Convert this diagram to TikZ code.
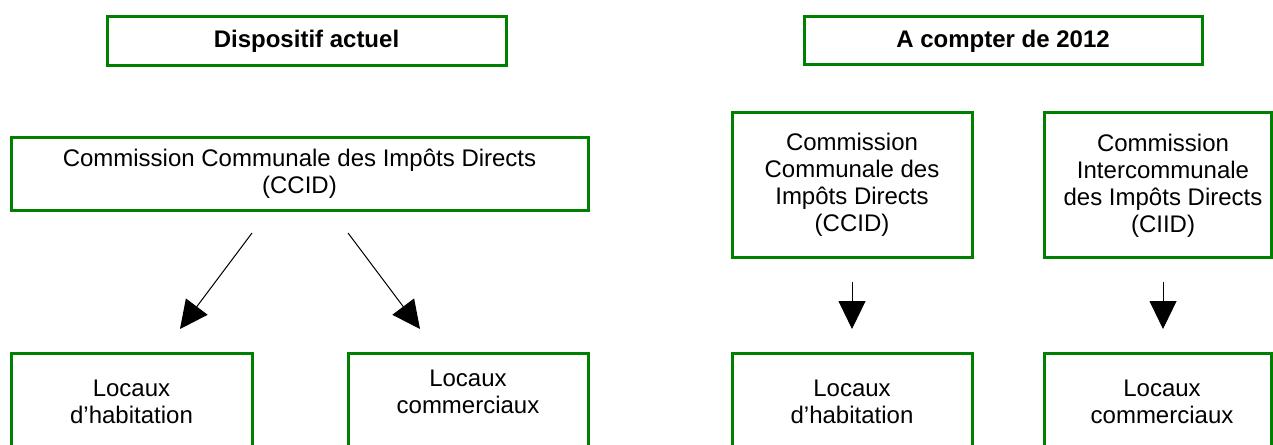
\documentclass[tikz,border=0pt]{standalone}
\usepackage{fontspec}
\setmainfont{Liberation Sans}
\usetikzlibrary{arrows.meta}
\definecolor{boxgreen}{RGB}{0,128,0}
\begin{document}
\begin{tikzpicture}[x=0.5pt,y=-0.5pt,
  gbox/.style={draw=boxgreen, line width=1.5pt, rectangle, inner sep=0pt, align=center, font=\fontsize{12}{13.5}\selectfont},
  lbl/.style={inner sep=0pt, align=center, font=\fontsize{12}{13.5}\selectfont},
  arr/.style={line width=0.5pt, -{Triangle[length=14pt,width=13.5pt]}}]
\useasboundingbox (0,0) rectangle (1273,444);
\clip (0,0) rectangle (1273,444);
% titles
\node[gbox, minimum width=199.5pt, minimum height=24.5pt, font=\fontsize{12}{13.5}\selectfont\bfseries] (t1) at (306.5,41.5) {Dispositif actuel};
\node[gbox, minimum width=199pt, minimum height=24pt, font=\fontsize{12}{13.5}\selectfont\bfseries] (t2) at (1003,41) {A compter de 2012};
% commission boxes
\node[gbox, minimum width=288.5pt, minimum height=36.5pt] (ccidL) at (299.5,173.5) {Commission Communale des Impôts Directs\\(CCID)};
\node[gbox, minimum width=120pt, minimum height=72pt] (ccidR) at (852,185) {Commission\\Communale des\\Impôts Directs\\(CCID)};
\node[gbox, minimum width=113.5pt, minimum height=72pt] (ciid) at (1157.5,185) {};
\node[lbl] (ciidtxt) at (1163,186) {Commission\\Intercommunale\\des Impôts Directs\\(CIID)};
% bottom boxes
\node[gbox, minimum width=120.5pt, minimum height=58.5pt] (habL) at (131.5,411.5) {};
\node[gbox, minimum width=120pt, minimum height=58.5pt] (comL) at (468,411.5) {};
\node[gbox, minimum width=120pt, minimum height=58.5pt] (habR) at (852,411.5) {};
\node[gbox, minimum width=113.5pt, minimum height=58.5pt] (comR) at (1157.5,411.5) {};
\node[lbl] (habLt) at (131.5,402) {Locaux\\d’habitation};
\node[lbl] (comLt) at (468,392) {Locaux\\commerciaux};
\node[lbl] (habRt) at (852,402) {Locaux\\d’habitation};
\node[lbl] (comRt) at (1162,402) {Locaux\\commerciaux};
% arrow endpoints
\coordinate (a1s) at (252,233);
\coordinate (a1e) at (180,329);
\coordinate (a2s) at (348,233);
\coordinate (a2e) at (420,329);
\coordinate (a3s) at (852,282);
\coordinate (a3e) at (852,329);
\coordinate (a4s) at (1163,282);
\coordinate (a4e) at (1163,329);
\draw[arr] (a1s) -- (a1e);
\draw[arr] (a2s) -- (a2e);
\draw[arr] (a3s) -- (a3e);
\draw[arr] (a4s) -- (a4e);
\end{tikzpicture}
\end{document}
